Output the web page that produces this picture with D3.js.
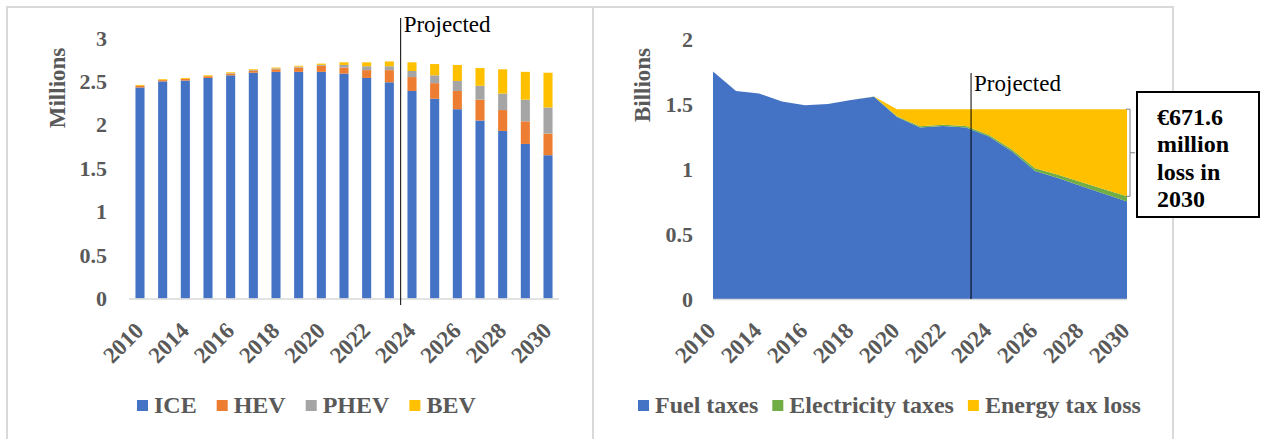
<!DOCTYPE html>
<html>
<head>
<meta charset="utf-8">
<script src="https://cdn.jsdelivr.net/npm/d3@7"></script>
<style>
  html, body { margin: 0; padding: 0; background: #fff; }
  svg { display: block; }
  text { font-family: "Liberation Serif", "Times New Roman", serif; }
</style>
</head>
<body>
<svg id="chart" width="1263" height="439"></svg>
<script>
/* Categories */
const years = [2010, 2013, 2014, 2015, 2016, 2017, 2018, 2019, 2020, 2021,
  2022, 2023, 2024, 2025, 2026, 2027, 2028, 2029, 2030];
const xTickYears = [2010, 2014, 2016, 2018, 2020, 2022, 2024, 2026, 2028, 2030];

/* Vehicle stock, millions */
const iceValues = [2.43, 2.50, 2.51, 2.54, 2.57, 2.60, 2.61, 2.61, 2.61, 2.59,
  2.54, 2.49, 2.39, 2.30, 2.18, 2.05, 1.93, 1.78, 1.65];
const hevValues = [0.02, 0.015, 0.02, 0.02, 0.02, 0.02, 0.03, 0.05, 0.07, 0.07,
  0.09, 0.14, 0.16, 0.18, 0.21, 0.24, 0.24, 0.26, 0.25];
const phevValues = [0, 0, 0, 0, 0.005, 0.01, 0.01, 0.01, 0.01, 0.03,
  0.045, 0.045, 0.07, 0.09, 0.115, 0.16, 0.19, 0.25, 0.30];
const bevValues = [0.01, 0.01, 0.01, 0.01, 0.01, 0.01, 0.01, 0.01, 0.015, 0.03,
  0.045, 0.055, 0.10, 0.13, 0.185, 0.205, 0.28, 0.32, 0.40];
const stockTicks = [0, 0.5, 1, 1.5, 2, 2.5, 3];

/* Energy taxes, billions */
const fuelTaxes = [1.75, 1.60, 1.58, 1.52, 1.49, 1.50, 1.53, 1.555, 1.40, 1.32,
  1.33, 1.32, 1.25, 1.135, 0.985, 0.93, 0.87, 0.81, 0.75];
const electricityTaxes = [0, 0, 0, 0, 0, 0, 0, 0.003, 0.005, 0.008,
  0.01, 0.01, 0.012, 0.015, 0.02, 0.025, 0.03, 0.035, 0.04];
const energyTaxLoss = [0, 0, 0, 0, 0, 0, 0, 0, 0.055, 0.132,
  0.12, 0.13, 0.198, 0.31, 0.455, 0.505, 0.56, 0.615, 0.67];
const taxTicks = [0, 0.5, 1, 1.5, 2];

const stockSeries = ['ICE', 'HEV', 'PHEV', 'BEV'];
const taxSeries = ['Fuel taxes', 'Electricity taxes', 'Energy tax loss'];
const annotationLines = ['€671.6', 'million', 'loss in', '2030'];

const stockColors = ['#4472C4', '#ED7D31', '#A5A5A5', '#FFC000'];
const taxColors = ['#4472C4', '#70AD47', '#FFC000'];
const textGray = '#595959';
const frameGray = '#D9D9D9';

let svg = d3.select('#chart');

/* Panel frames */
let frames = svg.append('g').attr('class', 'frames')
    .attr('fill', 'none')
    .attr('stroke', frameGray)
    .attr('stroke-width', 2);
frames.append('path').attr('d', 'M7,445V7H593V445');
frames.append('path').attr('d', 'M593,7H1173V445');

/* ---------- Left: vehicle stock ---------- */
let stockRows = years.map((year, i) => ({
  year: year,
  ICE: iceValues[i],
  HEV: hevValues[i],
  PHEV: phevValues[i],
  BEV: bevValues[i],
}));

let xLeft = d3.scaleBand()
    .domain(years)
    .range([129, 559])
    .paddingInner(0.6)
    .paddingOuter(0.285);
let yLeft = d3.scaleLinear()
    .domain([0, 3])
    .range([298.5, 38]);

let stacked = d3.stack().keys(stockSeries)(stockRows);

let leftPlot = svg.append('g').attr('class', 'left-plot');

leftPlot.append('g')
    .attr('class', 'bars')
    .selectAll('g')
    .data(stacked)
    .join('g')
    .attr('fill', (d, i) => stockColors[i])
    .selectAll('rect')
    .data(d => d)
    .join('rect')
    .attr('x', d => xLeft(d.data.year))
    .attr('width', xLeft.bandwidth())
    .attr('y', d => yLeft(d[1]))
    .attr('height', d => Math.max(0, yLeft(d[0]) - yLeft(d[1])));

/* Y axis */
let yAxisLeft = d3.axisLeft(yLeft)
    .tickValues(stockTicks)
    .tickSize(0)
    .tickPadding(0)
    .tickFormat(d => String(d));
leftPlot.append('g')
    .attr('class', 'y-axis')
    .attr('transform', 'translate(107,0)')
    .call(yAxisLeft)
    .call(g => g.select('.domain').remove())
    .call(g => g.selectAll('text')
        .attr('fill', textGray)
        .attr('font-size', 22)
        .attr('font-weight', 'bold')
        .attr('font-family', '"Liberation Serif", "Times New Roman", serif'));

/* X axis */
leftPlot.append('line')
    .attr('x1', 129).attr('x2', 559)
    .attr('y1', yLeft(0) + 0.5).attr('y2', yLeft(0) + 0.5)
    .attr('stroke', frameGray)
    .attr('stroke-width', 1.5);

leftPlot.append('g')
    .attr('class', 'x-labels')
    .selectAll('text')
    .data(xTickYears)
    .join('text')
    .attr('transform', d => {
      let x = xLeft(d) + xLeft.bandwidth() / 2 + 5;
      return `translate(${x},332) rotate(-45)`;
    })
    .attr('text-anchor', 'end')
    .attr('fill', textGray)
    .attr('font-size', 23)
    .attr('font-weight', 'bold')
    .text(d => d);

leftPlot.append('text')
    .attr('transform', 'translate(65,88) rotate(-90)')
    .attr('text-anchor', 'middle')
    .attr('fill', textGray)
    .attr('font-size', 23)
    .attr('font-weight', 'bold')
    .text('Millions');

/* Projected marker */
let projLeftX = (xLeft(2023) + xLeft(2024) + xLeft.bandwidth()) / 2;
leftPlot.append('line')
    .attr('x1', projLeftX).attr('x2', projLeftX)
    .attr('y1', 18).attr('y2', 305)
    .attr('stroke', '#000')
    .attr('stroke-width', 1);
leftPlot.append('text')
    .attr('x', projLeftX + 3)
    .attr('y', 32)
    .attr('font-size', 23)
    .attr('fill', '#000')
    .text('Projected');

/* ---------- Right: energy taxes ---------- */
let taxRows = years.map((year, i) => ({
  year: year,
  'Fuel taxes': fuelTaxes[i],
  'Electricity taxes': electricityTaxes[i],
  'Energy tax loss': energyTaxLoss[i],
}));

let xRight = d3.scalePoint()
    .domain(years)
    .range([713, 1127]);
let yRight = d3.scaleLinear()
    .domain([0, 2])
    .range([299, 39]);

let taxStacked = d3.stack().keys(taxSeries)(taxRows);

let area = d3.area()
    .x(d => xRight(d.data.year))
    .y0(d => yRight(d[0]))
    .y1(d => yRight(d[1]));

let rightPlot = svg.append('g').attr('class', 'right-plot');

rightPlot.append('g')
    .attr('class', 'areas')
    .selectAll('path')
    .data(taxStacked)
    .join('path')
    .attr('fill', (d, i) => taxColors[i])
    .attr('d', area);

let yAxisRight = d3.axisLeft(yRight)
    .tickValues(taxTicks)
    .tickSize(0)
    .tickPadding(0)
    .tickFormat(d => String(d));
rightPlot.append('g')
    .attr('class', 'y-axis')
    .attr('transform', 'translate(693,0)')
    .call(yAxisRight)
    .call(g => g.select('.domain').remove())
    .call(g => g.selectAll('text')
        .attr('fill', textGray)
        .attr('font-size', 22)
        .attr('font-weight', 'bold')
        .attr('font-family', '"Liberation Serif", "Times New Roman", serif'));

rightPlot.append('line')
    .attr('x1', 713).attr('x2', 1127)
    .attr('y1', yRight(0) + 0.5).attr('y2', yRight(0) + 0.5)
    .attr('stroke', frameGray)
    .attr('stroke-width', 1.5);

rightPlot.append('g')
    .attr('class', 'x-labels')
    .selectAll('text')
    .data(xTickYears)
    .join('text')
    .attr('transform', d => `translate(${xRight(d) + 4},332) rotate(-45)`)
    .attr('text-anchor', 'end')
    .attr('fill', textGray)
    .attr('font-size', 23)
    .attr('font-weight', 'bold')
    .text(d => d);

rightPlot.append('text')
    .attr('transform', 'translate(650,85) rotate(-90)')
    .attr('text-anchor', 'middle')
    .attr('fill', textGray)
    .attr('font-size', 23)
    .attr('font-weight', 'bold')
    .text('Billions');

let projRightX = xRight(2023) + xRight.step() * 0.22;
rightPlot.append('line')
    .attr('x1', projRightX).attr('x2', projRightX)
    .attr('y1', 73).attr('y2', 299)
    .attr('stroke', '#000')
    .attr('stroke-width', 1);
rightPlot.append('text')
    .attr('x', projRightX + 3)
    .attr('y', 91)
    .attr('font-size', 23)
    .attr('fill', '#000')
    .text('Projected');

/* Bracket marking the 2030 loss */
let lastYear = years[years.length - 1];
let lastRow = taxStacked[2][years.length - 1];
let bTop = yRight(lastRow[1]);
let bBottom = yRight(lastRow[0]);
let bx = xRight(lastYear) + 3;
rightPlot.append('path')
    .attr('d', `M${bx - 4},${bTop}H${bx}V${bBottom}H${bx - 4}` +
        `M${bx},${(bTop + bBottom) / 2}H${bx + 5}`)
    .attr('fill', 'none')
    .attr('stroke', '#7F7F7F')
    .attr('stroke-width', 1);

/* Annotation box */
let note = svg.append('g').attr('class', 'annotation');
note.append('rect')
    .attr('x', 1137).attr('y', 92)
    .attr('width', 122).attr('height', 125)
    .attr('fill', '#fff')
    .attr('stroke', '#000')
    .attr('stroke-width', 2);
note.selectAll('text')
    .data(annotationLines)
    .join('text')
    .attr('x', 1157)
    .attr('y', (d, i) => 125 + i * 27.3)
    .attr('font-size', 24)
    .attr('font-weight', 'bold')
    .attr('fill', '#000')
    .text(d => d);

/* Legends */
function drawLegend(parent, names, colors, startX, gap) {
  let g = parent.append('g').attr('class', 'legend');
  let x = startX;
  names.forEach((name, i) => {
    g.append('rect')
        .attr('x', x).attr('y', 400)
        .attr('width', 11).attr('height', 11)
        .attr('fill', colors[i]);
    let t = g.append('text')
        .attr('x', x + 17)
        .attr('y', 413)
        .attr('font-size', 24)
        .attr('font-weight', 'bold')
        .attr('fill', textGray)
        .text(name);
    x += 17 + t.node().getComputedTextLength() + gap;
  });
}
drawLegend(leftPlot, stockSeries, stockColors, 137, 20);
drawLegend(rightPlot, taxSeries, taxColors, 638, 14);
</script>
</body>
</html>
